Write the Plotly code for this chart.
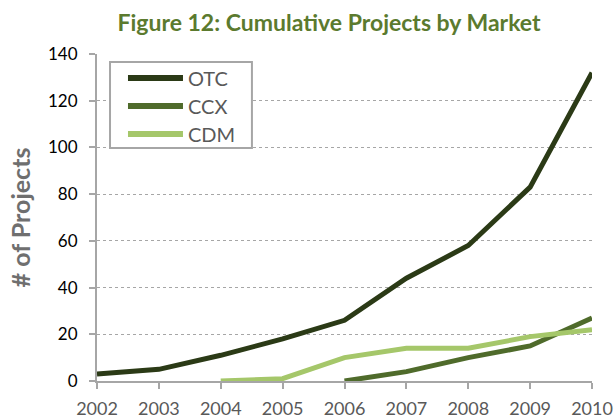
import plotly.graph_objects as go

years = [2002, 2003, 2004, 2005, 2006, 2007, 2008, 2009, 2010]
otc_years = years
otc = [3, 5, 11, 18, 26, 44, 58, 83, 132]
ccx_years = [2006, 2007, 2008, 2009, 2010]
ccx = [0, 4, 10, 15, 27]
cdm_years = [2004, 2005, 2006, 2007, 2008, 2009, 2010]
cdm = [0, 1, 10, 14, 14, 19, 22]
y_ticks = [0, 20, 40, 60, 80, 100, 120, 140]

series = [
    ("OTC", otc_years, otc, "#2b3a16"),
    ("CCX", ccx_years, ccx, "#4f6b2b"),
    ("CDM", cdm_years, cdm, "#a5c76a"),
]

FONT = "Lato"
fig = go.Figure()
for name, xs, ys, col in series:
    fig.add_trace(go.Scatter(x=xs, y=ys, mode="lines", name=name,
                             line=dict(color=col, width=5), showlegend=False))

# custom legend (box, line samples, labels) in paper coordinates
shapes = [dict(type="rect", xref="paper", yref="paper", x0=0.0263, x1=0.313,
               y0=0.7125, y1=0.9755, line=dict(color="#a6a6a6", width=2),
               fillcolor="white", layer="above")]
annotations = []
row_y = [0.9266, 0.841, 0.7554]
for (name, xs, ys, col), ry in zip(series, row_y):
    shapes.append(dict(type="line", xref="paper", yref="paper", x0=0.0626, x1=0.1737,
                       y0=ry, y1=ry, line=dict(color=col, width=6), layer="above"))
    annotations.append(dict(text=name, xref="paper", yref="paper", x=0.1800, y=ry,
                            xanchor="left", yanchor="middle", showarrow=False,
                            font=dict(family=FONT, size=20, color="#595959")))

fig.update_layout(
    width=615, height=418,
    margin=dict(l=97, r=23, t=54, b=37),
    paper_bgcolor="white", plot_bgcolor="white",
    font=dict(family=FONT, color="#000000"),
    title=dict(text="<b>Figure 12: Cumulative Projects by Market</b>",
               font=dict(family=FONT, size=23, color="#5b7a2e"),
               x=0.535, xanchor="center", y=0.945, yanchor="middle"),
    showlegend=False,
    shapes=shapes,
    annotations=annotations,
    xaxis=dict(range=[2002, 2010], tickmode="array", tickvals=years,
               ticktext=[str(y) for y in years], showgrid=False,
               showline=True, linecolor="#a6a6a6", linewidth=2,
               ticks="outside", ticklen=6, tickcolor="#a6a6a6", tickwidth=2,
               ticklabelstandoff=4,
               tickfont=dict(family=FONT, size=18, color="#595959"),
               zeroline=False, fixedrange=True, automargin=False),
    yaxis=dict(range=[0, 140], tickmode="array", tickvals=y_ticks,
               showgrid=True, gridcolor="#a6a6a6", griddash="dot", gridwidth=1,
               showline=True, linecolor="#a6a6a6", linewidth=2,
               ticks="outside", ticklen=6, tickcolor="#a6a6a6", tickwidth=2,
               ticklabelstandoff=8,
               tickfont=dict(family=FONT, size=17, color="#000000"),
               title=dict(text="<b># of Projects</b>",
                          font=dict(family=FONT, size=25, color="#6f6f6f"),
                          standoff=10),
               zeroline=False, fixedrange=True, automargin=False),
)

fig.write_html("out.html", config={"displayModeBar": False},
               post_script="document.body.style.margin='0px';")
